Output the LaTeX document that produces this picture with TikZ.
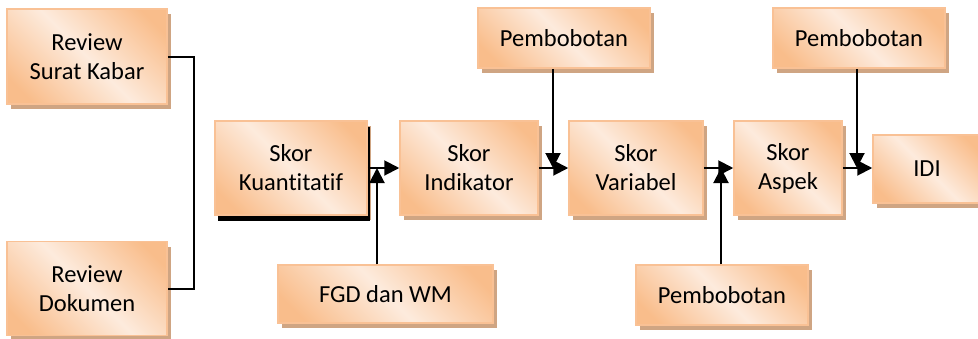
\documentclass[tikz,border=0pt]{standalone}
\usepackage{fontspec}
\setmainfont[Ligatures={NoCommon}]{Carlito}
\usetikzlibrary{arrows.meta,shadows}
\definecolor{org}{HTML}{F9BD8B}
\definecolor{lite}{HTML}{FDEBDD}
\definecolor{bord}{HTML}{F9C195}
\definecolor{shd}{HTML}{CFA583}
\pgfdeclarehorizontalshading{boxshade}{100bp}{color(0bp)=(org); color(22bp)=(org); color(50bp)=(lite); color(78bp)=(org); color(100bp)=(org)}
\begin{document}
\begin{tikzpicture}[x=1pt,y=-1pt,
  box/.style={draw=bord, line width=1.5pt, shading=boxshade, shading angle=45,
    inner sep=0pt, align=center, text=black,
    font=\fontsize{24.5}{29}\selectfont,
    drop shadow={shadow xshift=4pt, shadow yshift=-5pt, fill=shd, opacity=1}},
  conn/.style={draw=black, line width=2pt},
  arr/.style={conn, -{Triangle[length=15pt,width=15pt]}}]
\clip (0,0) rectangle (978,338);
\useasboundingbox (0,0) rectangle (978,338);
% left review boxes
\node[box, minimum width=160, minimum height=95] (rsk) at (87,56.5) {Review\\Surat Kabar};
\node[box, minimum width=160, minimum height=94] (rdok) at (87,288.5) {Review\\Dokumen};
% main chain
\node[box, drop shadow={shadow xshift=3pt, shadow yshift=-6pt, fill=black, opacity=1}, minimum width=152, minimum height=94] (kuant) at (291,168) {Skor\\Kuantitatif};
\node[box, minimum width=138, minimum height=94] (ind) at (469,168) {Skor\\Indikator};
\node[box, minimum width=134, minimum height=94] (var) at (636,168) {Skor\\Variabel};
\node[box, minimum width=108, minimum height=94] (asp) at (788,168) {Skor\\Aspek};
\node[box, minimum width=108, minimum height=68] (idi) at (927,169) {IDI};
% inputs
\node[box, minimum width=215, minimum height=58] (fgd) at (385.5,294) {FGD dan WM};
\node[box, minimum width=172, minimum height=60] (pb1) at (564,38) {Pembobotan};
\node[box, minimum width=172, minimum height=60] (pb2) at (859,38) {Pembobotan};
\node[box, minimum width=172, minimum height=60] (pb3) at (722,295) {Pembobotan};
% junctions
\coordinate (j1) at (377,168);
\coordinate (j2) at (553,168);
\coordinate (j3) at (721,168);
\coordinate (j4) at (857,168);
% bracket
\draw[conn] (rsk.east) -- ++(26,0) |- (rdok.east);
% horizontal arrows
\draw[arr] (kuant) -- (ind);
\draw[arr] (ind) -- (var);
\draw[arr] (var) -- (asp);
\draw[arr] (asp.east) -- (asp.east -| idi.west);
% vertical arrows
\draw[arr] (fgd.north -| j1) -- (j1);
\draw[arr] (pb1.south -| j2) -- (j2);
\draw[arr] (pb3.north -| j3) -- (j3);
\draw[arr] (pb2.south -| j4) -- (j4);
\end{tikzpicture}
\end{document}
